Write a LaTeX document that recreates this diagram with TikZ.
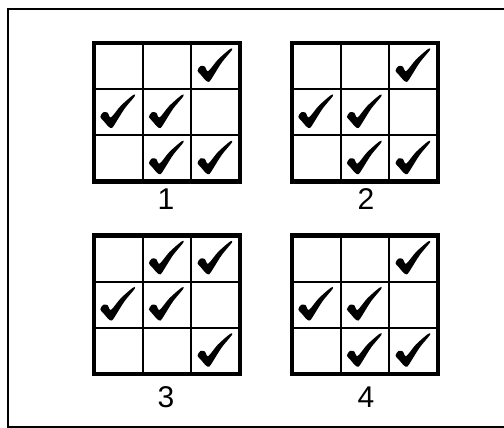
\documentclass[tikz,border=0pt]{standalone}
\usepackage{fontspec}
\setmainfont{Liberation Sans}
\newcommand\chkgrid[3]{%
  \begin{scope}[shift={(#1,#2)}]
    \foreach \i in {1,2} {
      \draw[inner] (\i*48.6,0) -- (\i*48.6,138.5);
      \draw[inner] (0,\i*46.2) -- (145.8,\i*46.2);
    }
    \draw[outer] (0,0) rectangle (145.8,138.5);
    \foreach \c/\r in {#3} \pic at (\c*48.6,\r*46.2) {chk};
  \end{scope}}
\begin{document}
\begin{tikzpicture}[x=1pt,y=-1pt,
  frame/.style={line width=1.6pt},
  outer/.style={line width=4.5pt},
  inner/.style={line width=2pt},
  lab/.style={font=\fontsize{30}{30}\selectfont, inner sep=0pt},
  chk/.pic={\fill[xscale=48.6,yscale=46.2] plot[smooth cycle,tension=0.5] coordinates {
      (0.13,0.60) (0.19,0.50) (0.28,0.51) (0.35,0.61) (0.55,0.36) (0.80,0.13)
      (0.84,0.15) (0.63,0.42) (0.45,0.72) (0.37,0.84) (0.30,0.81) (0.20,0.69)};}
]
\useasboundingbox (0,0) rectangle (504,428);
\fill[white] (0,0) rectangle (504,428);
\draw[frame] (504,9) -- (8,9) -- (8,427) -- (504,427);
\chkgrid{94}{43}{2/0,0/1,1/1,1/2,2/2}
\chkgrid{292}{43}{2/0,0/1,1/1,1/2,2/2}
\chkgrid{94}{235.5}{1/0,2/0,0/1,1/1,2/2}
\chkgrid{292}{235.5}{2/0,0/1,1/1,1/2,2/2}
\node[lab] (l1) at (166,199.5) {1};
\node[lab] (l2) at (366,199.5) {2};
\node[lab] (l3) at (166,397.5) {3};
\node[lab] (l4) at (366,397.5) {4};
\end{tikzpicture}
\end{document}
